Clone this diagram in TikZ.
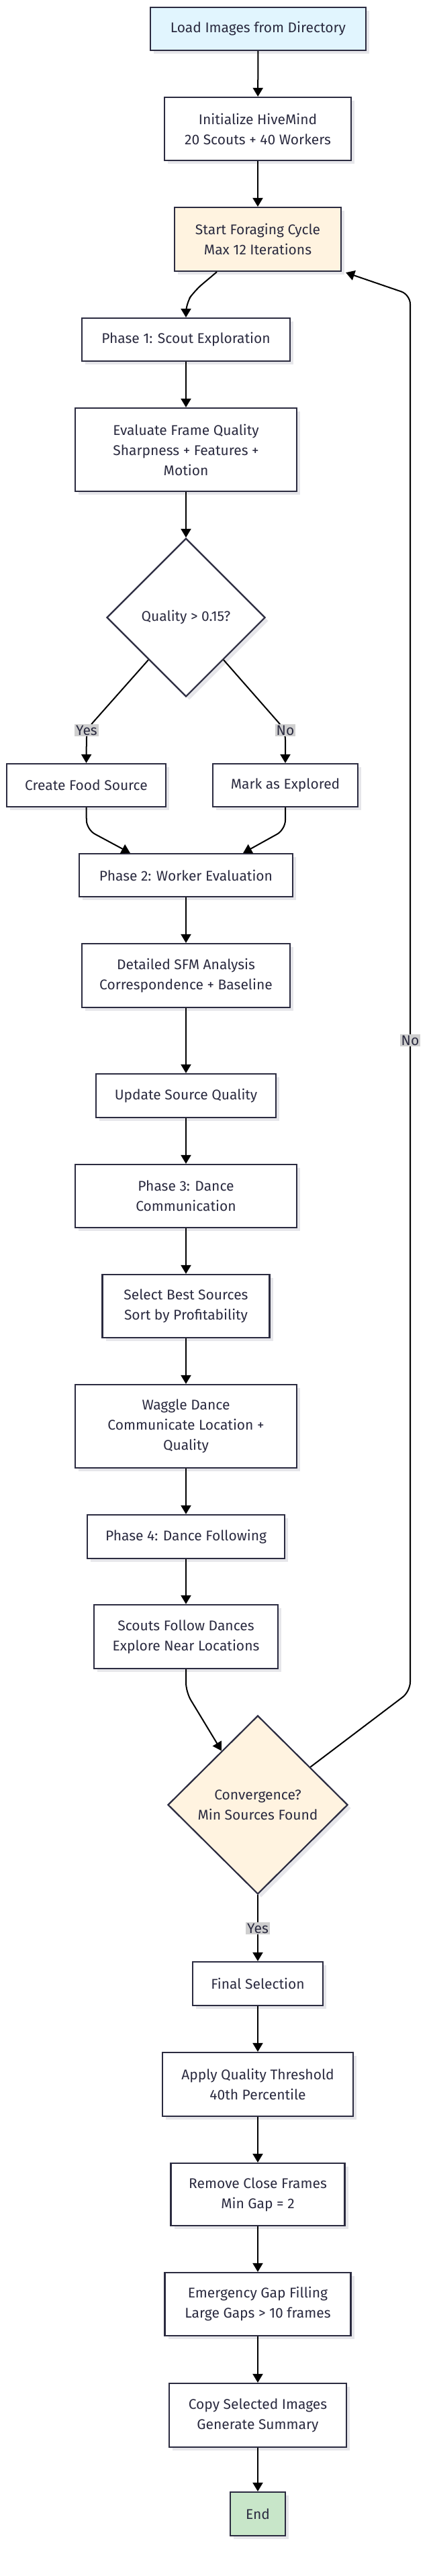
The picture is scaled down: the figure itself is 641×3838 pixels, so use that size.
\documentclass[tikz,border=0pt]{standalone}
\usepackage{fontspec}
\setmainfont{Fira Sans}
\usetikzlibrary{arrows.meta,shapes.geometric,shadows,calc}
\definecolor{bord}{HTML}{2B2B40}
\definecolor{txt}{HTML}{2B2B40}
\definecolor{bluef}{HTML}{E1F5FE}
\definecolor{orangef}{HTML}{FFF3E0}
\definecolor{greenf}{HTML}{C8E6C9}
\definecolor{lblf}{HTML}{CFCFCF}
\definecolor{shadowc}{HTML}{E6E6EA}
\tikzset{
  box/.style={draw=bord, line width=2.2pt, fill=white, text=txt, align=center, inner sep=0pt,
    font=\fontsize{21}{30}\selectfont,
    drop shadow={shadow xshift=5pt,shadow yshift=-5pt,fill=shadowc,opacity=1}},
  dia/.style={box, diamond, aspect=1},
  lbl/.style={fill=lblf, text=txt, inner sep=2pt, font=\fontsize{21}{30}\selectfont},
  arr/.style={draw=black, line width=2pt, -{Triangle[length=13pt,width=15pt]}, rounded corners=14pt},
}
\begin{document}
\begin{tikzpicture}[x=1pt,y=-1pt]
\useasboundingbox[fill=white] (0,0) rectangle (641,3838);

\node[box, fill=bluef, minimum width=321pt, minimum height=64pt] (load) at (384.5,43) {Load Images from Directory};
\node[box, minimum width=278pt, minimum height=94pt] (init) at (384,192) {Initialize HiveMind\\20 Scouts + 40 Workers};
\node[box, fill=orangef, minimum width=248pt, minimum height=95pt] (start) at (384,356.5) {Start Foraging Cycle\\Max 12 Iterations};
\node[box, minimum width=310pt, minimum height=64pt] (p1) at (277,506) {Phase 1: Scout Exploration};
\node[box, minimum width=330pt, minimum height=124pt] (eval) at (277,670) {Evaluate Frame Quality\\Sharpness + Features +\\Motion};
\node[dia, minimum width=236pt, minimum height=236pt] (q) at (277,920) {Quality > 0.15?};
\node[box, minimum width=237pt, minimum height=64pt] (create) at (128.5,1170) {Create Food Source};
\node[box, minimum width=216pt, minimum height=64pt] (mark) at (425,1170) {Mark as Explored};
\node[box, minimum width=318pt, minimum height=64pt] (p2) at (277,1304) {Phase 2: Worker Evaluation};
\node[box, minimum width=310pt, minimum height=95pt] (sfm) at (277,1453.5) {Detailed SFM Analysis\\Correspondence + Baseline};
\node[box, minimum width=268pt, minimum height=65pt] (update) at (277,1632.5) {Update Source Quality};
\node[box, minimum width=330pt, minimum height=94pt] (p3) at (277,1782) {Phase 3: Dance\\Communication};
\node[box, minimum width=249pt, minimum height=94pt] (select) at (277,1946) {Select Best Sources\\Sort by Profitability};
\node[box, minimum width=330pt, minimum height=124pt] (waggle) at (277,2125) {Waggle Dance\\Communicate Location +\\Quality};
\node[box, minimum width=294pt, minimum height=65pt] (p4) at (277,2289.5) {Phase 4: Dance Following};
\node[box, minimum width=274pt, minimum height=95pt] (scouts) at (277,2438.5) {Scouts Follow Dances\\Explore Near Locations};
\node[dia, fill=orangef, minimum width=268pt, minimum height=266pt] (conv) at (384,2689) {Convergence?\\Min Sources Found};
\node[box, minimum width=194pt, minimum height=65pt] (final) at (384,2955.5) {Final Selection};
\node[box, minimum width=284pt, minimum height=95pt] (apply) at (384,3105.5) {Apply Quality Threshold\\40th Percentile};
\node[box, minimum width=259pt, minimum height=93pt] (remove) at (384,3269.5) {Remove Close Frames\\Min Gap = 2};
\node[box, minimum width=277pt, minimum height=94pt] (emerg) at (384,3433) {Emergency Gap Filling\\Large Gaps > 10 frames};
\node[box, minimum width=264pt, minimum height=95pt] (copy) at (384,3598.5) {Copy Selected Images\\Generate Summary};
\node[box, fill=greenf, minimum width=82pt, minimum height=65pt] (end) at (384,3745.5) {End};

% waypoints
\coordinate (c1) at (290,433);
\coordinate (c2) at (277,452);
\coordinate (yesc) at (129,1087);
\coordinate (noc) at (425,1088);
\coordinate (cfl) at (129,1236);
\coordinate (cfr) at (425,1236);
\coordinate (sc) at (277,2521);
\coordinate (lb) at (611,2520);
\coordinate (lt) at (611,439);
\coordinate (convyes) at (384,2873);

\draw[arr] (load) -- (init);
\draw[arr] (init) -- (start);
\draw[arr] ($(start.south)+(-61,0)$) -- (c1) -- (c2) -- (p1.north);
\draw[arr] (p1) -- (eval);
\draw[arr] (eval) -- (q);
\draw[arr] ($(q.west)!0.53!(q.south)$) -- (yesc) -- (create.north);
\draw[arr] ($(q.east)!0.53!(q.south)$) -- (noc) -- (mark.north);
\draw[arr] (create.south) -- (cfl) -- ($(p2.north west)+(77,0)$);
\draw[arr] (mark.south) -- (cfr) -- ($(p2.north east)+(-75,0)$);
\draw[arr] (p2) -- (sfm);
\draw[arr] (sfm) -- (update);
\draw[arr] (update) -- (p3);
\draw[arr] (p3) -- (select);
\draw[arr] (select) -- (waggle);
\draw[arr] (waggle) -- (p4);
\draw[arr] (p4) -- (scouts);
\draw[arr] (scouts.south) -- (sc) -- ($(conv.north)!0.4!(conv.west)$);
\draw[arr] ($(conv.north)!0.58!(conv.east)$) -- (lb) -- (lt) -- ($(start.south east)+(6,1)$);
\draw[arr] (conv.south) -- (final.north);
\draw[arr] (final) -- (apply);
\draw[arr] (apply) -- (remove);
\draw[arr] (remove) -- (emerg);
\draw[arr] (emerg) -- (copy);
\draw[arr] (copy) -- (end);

\node[lbl] (lyes) at (129,1088) {Yes};
\node[lbl] (lno) at (425,1088) {No};
\node[lbl] (lloop) at (611,1550) {No};
\node[lbl] (lcyes) at (convyes) {Yes};
\end{tikzpicture}
\end{document}
